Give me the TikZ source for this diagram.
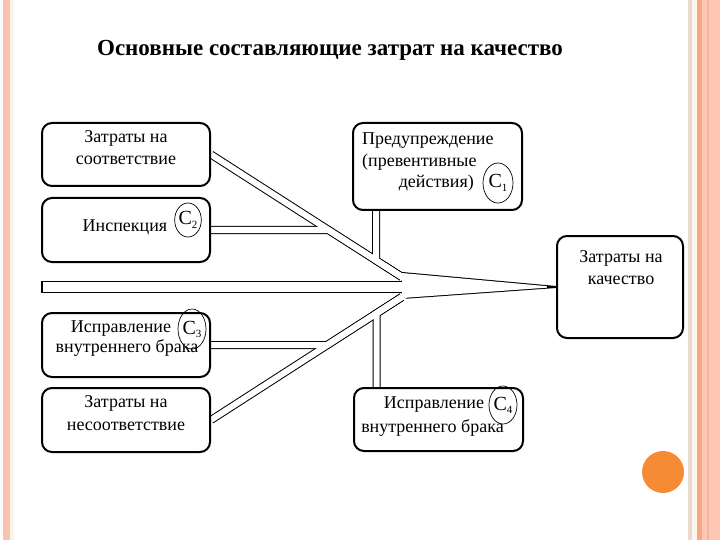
\documentclass[tikz,border=0pt]{standalone}
\usepackage{fontspec}
\setmainfont{Liberation Serif}
\usetikzlibrary{shapes.geometric,backgrounds}
\definecolor{stripL}{HTML}{F9C3AD}
\definecolor{creamL}{HTML}{FDF5EA}
\definecolor{greyR}{HTML}{EBD9CE}
\definecolor{creamR}{HTML}{FDF6EC}
\definecolor{orangeR}{HTML}{F4A883}
\definecolor{salmonR}{HTML}{FCC7B3}
\definecolor{lineR}{HTML}{F6B49A}
\definecolor{dotorange}{HTML}{F68B35}
\begin{document}
\begin{tikzpicture}[x=1pt,y=-1pt,
  box/.style={draw, line width=2pt, rounded corners=10pt, inner sep=0pt},
  txt/.style={inner sep=0pt, anchor=base, font=\fontsize{18}{21}\selectfont},
  cell/.style={draw, ellipse, line width=0.7pt, inner sep=0pt, font=\fontsize{20}{20}\selectfont},
  bk/.style={line width=8pt, black},
  wh/.style={line width=6pt, white},
]
\useasboundingbox (0,0) rectangle (720,540);

% boxes
\node[box, minimum width=168pt, minimum height=63pt] (A) at (126,154.5) {};
\node[box, minimum width=168pt, minimum height=64pt] (B) at (126,230) {};
\node[box, minimum width=168pt, minimum height=64pt] (C) at (126,345) {};
\node[box, minimum width=168pt, minimum height=64pt] (D) at (126,420) {};
\node[box, minimum width=169pt, minimum height=87pt] (E) at (437.5,166.5) {};
\node[box, minimum width=126pt, minimum height=102pt] (F) at (620,287) {};
\node[box, minimum width=169pt, minimum height=63pt] (G) at (438.5,419.5) {};

% title
\node[inner sep=0pt, anchor=base, font=\fontsize{23}{27}\selectfont\bfseries] (title) at (330,56) {Основные составляющие затрат на качество};

% texts
\node[txt] (a1) at (126,143) {Затраты на};
\node[txt] (a2) at (126,165) {соответствие};
\node[txt] (b1) at (125,232) {Инспекция};
\node[txt] (c1) at (121,332) {Исправление};
\node[txt] (c2) at (127,352) {внутреннего брака};
\node[txt] (d1) at (126,407) {Затраты на};
\node[txt] (d2) at (126,430) {несоответствие};
\node[txt, anchor=base west] (e1) at (362,145) {Предупреждение};
\node[txt, anchor=base west] (e2) at (362,167) {(превентивные};
\node[txt, anchor=base east] (e3) at (474,188) {действия)};
\node[txt] (f1) at (621,262) {Затраты на};
\node[txt] (f2) at (621,284) {качество};
\node[txt] (g1) at (434,408) {Исправление};
\node[txt] (g2) at (432.5,432) {внутреннего брака};

% cost labels
\node[cell, minimum width=30pt, minimum height=40pt] (c1lab) at (498,183) {C\raisebox{-4pt}{\fontsize{11}{11}\selectfont 1}};
\node[cell, minimum width=26pt, minimum height=34pt] (c2lab) at (188,220) {C\raisebox{-4pt}{\fontsize{11}{11}\selectfont 2}};
\node[cell, minimum width=28pt, minimum height=40pt] (c3lab) at (192,329) {C\raisebox{-3pt}{\fontsize{11}{11}\selectfont 3}};
\node[cell, minimum width=28pt, minimum height=38pt] (c4lab) at (503,405) {C\raisebox{-3pt}{\fontsize{11}{11}\selectfont 4}};

% key points
\coordinate (pA) at (402,277);
\coordinate (pD) at (402,297);
\coordinate (jB) at (328.3,230);
\coordinate (jE) at (376,260.4);
\coordinate (eTop) at (376,210);
\coordinate (jC) at (327.1,345);
\coordinate (jG) at (376.5,313.3);
\coordinate (gTop) at (376.5,388);
\coordinate (s0) at (41,287);
\coordinate (s1) at (43,287);
\coordinate (pS) at (402,287);
\coordinate (pSx) at (406,287);
\coordinate (hT) at (402,273);
\coordinate (hB) at (402,298);
\coordinate (tipS) at (547,287);

\begin{scope}[on background layer]
  % page decoration
  \fill[white] (0,0) rectangle (720,540);
  \fill[stripL] (3,0) rectangle (10,540);
  \fill[creamL] (10,0) rectangle (14,540);
  \fill[greyR] (688,0) rectangle (692,540);
  \fill[creamR] (692,0) rectangle (697,540);
  \fill[orangeR] (697,0) rectangle (702,540);
  \fill[salmonR] (702,0) rectangle (720,540);
  \fill[lineR] (707,0) rectangle (709,540);
  \fill[dotorange] (663,472) circle (21);
  % fishbone: black pass
  \draw[bk] (A.east) -- (pA);
  \draw[bk] (B.east) -- (jB) -- (pA);
  \draw[bk] (eTop) -- (jE) -- (pA);
  \draw[bk] (D.east) -- (pD);
  \draw[bk] (C.east) -- (jC) -- (pD);
  \draw[bk] (gTop) -- (jG) -- (pD);
  \draw[line width=12pt] (s0) -- (pS);
  \filldraw[line width=2pt] (hT) -- (F.west) -- (hB) -- cycle;
  % fishbone: white pass
  \draw[wh, shorten >=-4pt] (A.east) -- (pA);
  \draw[wh, shorten >=-4pt] (B.east) -- (jB) -- (pA);
  \draw[wh, shorten >=-4pt] (eTop) -- (jE) -- (pA);
  \draw[wh, shorten >=-4pt] (D.east) -- (pD);
  \draw[wh, shorten >=-4pt] (C.east) -- (jC) -- (pD);
  \draw[wh, shorten >=-4pt] (gTop) -- (jG) -- (pD);
  \draw[line width=10pt, white] (s1) -- (pSx);
  \fill[white] (hT) -- (F.west) -- (hB) -- cycle;
  \draw[line width=2pt] (tipS) -- (F.west);
\end{scope}
\end{tikzpicture}
\end{document}
